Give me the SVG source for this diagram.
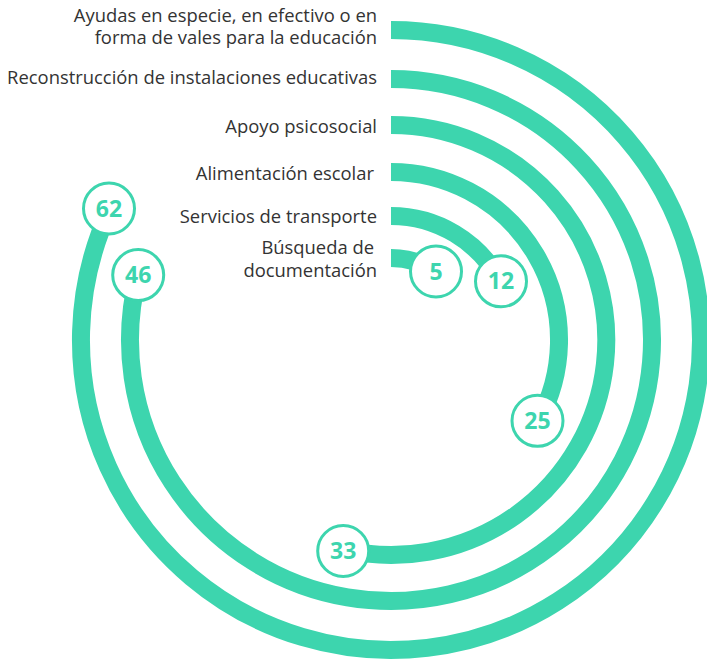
<svg xmlns="http://www.w3.org/2000/svg" width="707" height="662" viewBox="0 0 707 662">
<style>
.bar{fill:none;stroke:#3dd5ae;stroke-width:18;stroke-linecap:butt}
.badge{fill:#fff;stroke:#3dd5ae;stroke-width:3}
.num{font-family:"Open Sans","Liberation Sans",sans-serif;font-weight:bold;font-size:23px;fill:#3dd5ae;text-anchor:middle}
.lbl{font-family:"Open Sans","Liberation Sans",sans-serif;font-size:18.4px;fill:#333;text-anchor:end}
</style>
<rect width="707" height="662" fill="#fff"/>
<g id="s1">
<path class="bar" d="M391 30 A310 310 0 1 1 110.0 209.0"/>
<text class="lbl" x="377" y="22">Ayudas en especie, en efectivo o en</text>
<text class="lbl" x="377" y="44">forma de vales para la educación</text>
<circle class="badge" cx="109" cy="208.5" r="25.5"/>
<text class="num" x="109" y="216.5">62</text>
</g>
<g id="s2">
<path class="bar" d="M391 79 A261 261 0 1 1 138.2 275.1"/>
<text class="lbl" x="377" y="84">Reconstrucción de instalaciones educativas</text>
<circle class="badge" cx="138.2" cy="275.1" r="25.5"/>
<text class="num" x="138.2" y="283.1">46</text>
</g>
<g id="s3">
<path class="bar" d="M391 125 A215 215 0 1 1 343.4 549.6"/>
<text class="lbl" x="377" y="132.5">Apoyo psicosocial</text>
<circle class="badge" cx="343.2" cy="551" r="25.5"/>
<text class="num" x="343.2" y="559">33</text>
</g>
<g id="s4">
<path class="bar" d="M391 172 A168 168 0 0 1 538.1 421.2"/>
<text class="lbl" x="374" y="180">Alimentación escolar</text>
<circle class="badge" cx="537.5" cy="420.8" r="25.5"/>
<text class="num" x="537.5" y="428.8">25</text>
</g>
<g id="s5">
<path class="bar" d="M391 216 A124 124 0 0 1 500.4 281.6"/>
<text class="lbl" x="377" y="222.5">Servicios de transporte</text>
<circle class="badge" cx="501" cy="281.3" r="25.5"/>
<text class="num" x="501" y="289.3">12</text>
</g>
<g id="s6">
<path class="bar" d="M391 258 A82 82 0 0 1 436.0 271.5"/>
<text class="lbl" x="374" y="253.5">Búsqueda de</text>
<text class="lbl" x="377" y="277">documentación</text>
<circle class="badge" cx="436" cy="271.5" r="25.5"/>
<text class="num" x="436" y="279.5">5</text>
</g>
<g id="connectors"></g>
</svg>
